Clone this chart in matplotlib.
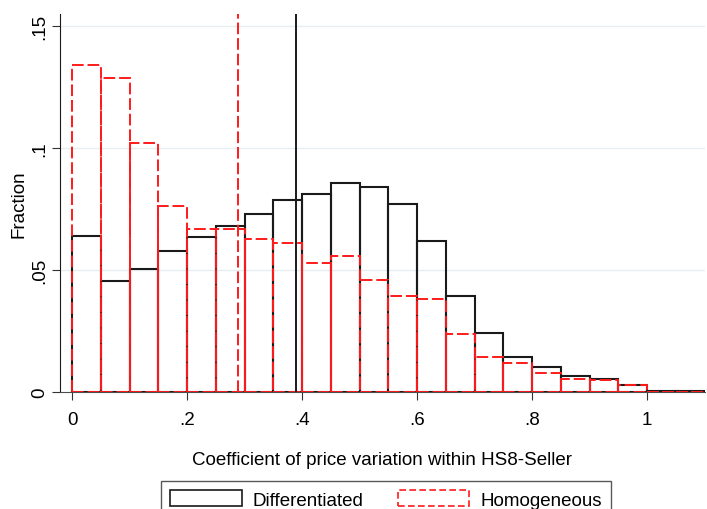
import numpy as np
import matplotlib.pyplot as plt
from matplotlib.patches import Patch

plt.rcParams['font.family'] = ['Liberation Sans', 'DejaVu Sans']

# histogram bins (left edges, width .05) and fractions
bin_left = [0.00, 0.05, 0.10, 0.15, 0.20, 0.25, 0.30, 0.35, 0.40, 0.45, 0.50,
            0.55, 0.60, 0.65, 0.70, 0.75, 0.80, 0.85, 0.90, 0.95, 1.00, 1.05]
differentiated = [0.0639, 0.0455, 0.0504, 0.0578, 0.0635, 0.0680, 0.0730, 0.0787,
                  0.0811, 0.0859, 0.0840, 0.0769, 0.0620, 0.0395, 0.0242, 0.0145,
                  0.0101, 0.0064, 0.0052, 0.0030, 0.0006, 0.0004]
homogeneous = [0.1340, 0.1287, 0.1020, 0.0762, 0.0668, 0.0668, 0.0627, 0.0613,
               0.0531, 0.0556, 0.0460, 0.0392, 0.0381, 0.0239, 0.0145, 0.0117,
               0.0079, 0.0052, 0.0050, 0.0029, 0.0, 0.0]
bin_width = 0.05
mean_diff = 0.390
mean_homog = 0.289

xticks = [0, 0.2, 0.4, 0.6, 0.8, 1.0]
xticklabels = ["0", ".2", ".4", ".6", ".8", "1"]
yticks = [0, 0.05, 0.10, 0.15]
yticklabels = ["0", ".05", ".1", ".15"]

FS = 13.5
DASH = (0, (6, 2))

fig = plt.figure(figsize=(7.07, 5.10), dpi=100)
ax = fig.add_axes([60 / 707, 1 - 393 / 510, (704.5 - 60) / 707, (393 - 15) / 510])

for y in yticks[1:]:
    ax.axhline(y, color="#e6eff0", lw=1.0, zorder=0)

ax.bar(bin_left, differentiated, width=bin_width, align="edge", fill=False,
       edgecolor="#1a1a1a", lw=1.5, zorder=2)
ax.bar(bin_left, homogeneous, width=bin_width, align="edge", fill=False,
       edgecolor="#ff1a1a", lw=1.4, ls=DASH, zorder=3)

ax.axvline(mean_homog, color="#ff1a1a", lw=1.4, ls=DASH, zorder=4)
ax.axvline(mean_diff, color="#1a1a1a", lw=1.4, zorder=4)

ax.set_xlim(-0.0209, 1.1)
ax.set_ylim(0, 0.155)
ax.set_xticks(xticks)
ax.set_xticklabels(xticklabels, fontsize=FS)
ax.set_yticks(yticks)
ax.set_yticklabels(yticklabels, fontsize=FS, rotation=90, va="center")
ax.tick_params(axis="both", length=6, width=0.8, color="0.2")
ax.tick_params(axis="x", pad=8)
ax.tick_params(axis="y", pad=2.5)

for s in ("top", "right"):
    ax.spines[s].set_visible(False)
ax.spines["left"].set_color("0.1")
ax.spines["bottom"].set_color("0.3")

ax.set_ylabel("Fraction", fontsize=FS, labelpad=3)
ax.set_xlabel("Coefficient of price variation within HS8-Seller", fontsize=FS,
              labelpad=16)

handles = [Patch(facecolor="white", edgecolor="#1a1a1a", lw=1.2, label="Differentiated"),
           Patch(facecolor="white", edgecolor="#ff1a1a", lw=1.2, ls=(0, (4, 2)),
                 label="Homogeneous")]
leg = fig.legend(handles=handles, loc="upper center", ncol=2,
                 bbox_to_anchor=(386 / 707, 1 - 482 / 510), fontsize=FS,
                 handlelength=3.8, handleheight=0.9, columnspacing=1.8,
                 fancybox=False, edgecolor="0.35", framealpha=1,
                 borderpad=0.5, borderaxespad=0, handletextpad=0.6)
leg.get_frame().set_linewidth(1.0)

fig.savefig("out.png", dpi=100, facecolor="white")
